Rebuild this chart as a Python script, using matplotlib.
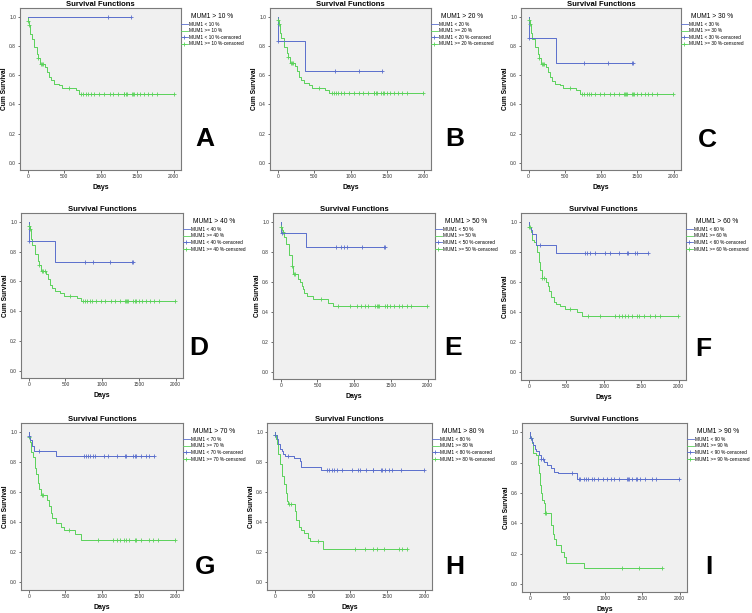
import numpy as np
import matplotlib
matplotlib.use("Agg")
import matplotlib.pyplot as plt
from matplotlib.lines import Line2D

plt.rcParams['font.family'] = ['Liberation Sans', 'DejaVu Sans']

# ---- data: step times, survival after each step, censored times ----
# lo = MUM1 < threshold (blue), hi = MUM1 >= threshold (green)
thresholds = [10, 20, 30, 40, 50, 60, 70, 80, 90]
letters = ['A', 'B', 'C', 'D', 'E', 'F', 'G', 'H', 'I']

A_lo_t = [0, 1420]
A_lo_s = [1.0, 1.0]
A_lo_c = [1105, 1420]
A_hi_t = [0, 5, 18, 36, 55, 91, 127, 145, 173, 241, 264, 295, 318, 364, 432, 477, 659, 705, 2000]
A_hi_s = [1.0, 0.968, 0.945, 0.882, 0.848, 0.791, 0.745, 0.718, 0.677, 0.655, 0.620, 0.586, 0.564, 0.541, 0.530, 0.511, 0.495, 0.473, 0.473]
A_hi_c = [5, 20, 145, 180, 200, 215, 568, 736, 760, 795, 830, 864, 909, 977, 1045, 1123, 1173, 1236,
          1318, 1325, 1340, 1355, 1423, 1440, 1455, 1500, 1545, 1600, 1650, 1705, 1773, 2000]

B_lo_t = [0, 5, 369, 1430]
B_lo_s = [1.0, 0.833, 0.625, 0.625]
B_lo_c = [10, 788, 1116, 1430]
B_hi_t = [0, 5, 15, 30, 50, 90, 125, 145, 170, 240, 262, 292, 318, 364, 430, 475, 655, 705, 1990]
B_hi_s = [1.0, 0.975, 0.95, 0.89, 0.852, 0.795, 0.75, 0.722, 0.68, 0.66, 0.625, 0.59, 0.568, 0.545, 0.534, 0.515, 0.498, 0.477, 0.477]
B_hi_c = [5, 20, 145, 180, 200, 215, 565, 740, 765, 800, 830, 865, 910, 980, 1045, 1120, 1175, 1240,
          1315, 1325, 1340, 1355, 1420, 1440, 1455, 1500, 1545, 1600, 1650, 1705, 1770, 1990]

C_lo_t = [0, 5, 372, 1430]
C_lo_s = [1.0, 0.857, 0.686, 0.686]
C_lo_c = [10, 760, 1100, 1425, 1435]
C_hi_t = [0, 5, 15, 30, 50, 90, 125, 145, 170, 240, 262, 292, 318, 364, 430, 475, 655, 705, 1990]
C_hi_s = [1.0, 0.975, 0.95, 0.89, 0.85, 0.792, 0.747, 0.72, 0.675, 0.655, 0.62, 0.585, 0.563, 0.54, 0.53, 0.511, 0.495, 0.473, 0.473]
C_hi_c = [5, 20, 145, 180, 200, 215, 565, 740, 765, 800, 830, 865, 910, 980, 1045, 1120, 1175, 1240,
          1315, 1325, 1340, 1355, 1420, 1440, 1455, 1500, 1545, 1600, 1650, 1705, 1770, 1990]

D_lo_t = [0, 5, 360, 1413]
D_lo_s = [1.0, 0.875, 0.729, 0.729]
D_lo_c = [10, 769, 871, 1102, 1405, 1413]
D_hi_t = [0, 5, 15, 30, 50, 90, 125, 145, 170, 240, 262, 292, 318, 364, 430, 475, 655, 705, 1990]
D_hi_s = [1.0, 0.975, 0.95, 0.885, 0.845, 0.787, 0.74, 0.712, 0.668, 0.648, 0.613, 0.578, 0.556, 0.533, 0.523, 0.505, 0.489, 0.467, 0.467]
D_hi_c = [5, 20, 145, 180, 200, 215, 565, 740, 765, 800, 830, 865, 910, 980, 1045, 1120, 1175, 1240,
          1315, 1325, 1340, 1355, 1420, 1440, 1455, 1500, 1545, 1600, 1650, 1705, 1770, 1990]

E_lo_t = [0, 5, 350, 1420]
E_lo_s = [1.0, 0.923, 0.831, 0.831]
E_lo_c = [15, 753, 820, 865, 897, 1112, 1404, 1418]
E_hi_t = [0, 5, 15, 25, 40, 70, 110, 148, 170, 240, 260, 283, 300, 318, 363, 440, 650, 708, 1987]
E_hi_s = [1.0, 0.966, 0.945, 0.933, 0.9, 0.855, 0.78, 0.708, 0.652, 0.62, 0.6, 0.573, 0.55, 0.528, 0.506, 0.483, 0.461, 0.438, 0.438]
E_hi_c = [5, 25, 150, 175, 195, 552, 785, 946, 1036, 1090, 1148, 1188, 1282, 1314, 1325, 1335, 1413,
          1440, 1452, 1493, 1547, 1614, 1650, 1717, 1771, 1987]

F_lo_t = [0, 5, 22, 44, 89, 364, 1591]
F_lo_s = [1.0, 0.967, 0.944, 0.922, 0.844, 0.796, 0.796]
F_lo_c = [147, 755, 778, 820, 880, 1022, 1089, 1200, 1311, 1324, 1422, 1444, 1591]
F_hi_t = [0, 5, 22, 44, 67, 89, 111, 133, 155, 169, 235, 250, 267, 298, 333, 360, 422, 489, 644, 711, 1991]
F_hi_s = [1.0, 0.967, 0.933, 0.878, 0.867, 0.844, 0.8, 0.733, 0.678, 0.627, 0.6, 0.572, 0.544, 0.5, 0.467, 0.456, 0.44, 0.422, 0.4, 0.373, 0.373]
F_hi_c = [5, 20, 180, 200, 556, 787, 947, 1147, 1200, 1244, 1289, 1324, 1378, 1444, 1467, 1533, 1622, 1689, 1756, 1991]

G_lo_t = [0, 5, 22, 45, 76, 367, 1709]
G_lo_s = [1.0, 0.971, 0.948, 0.91, 0.876, 0.843, 0.843]
G_lo_c = [5, 143, 747, 778, 805, 837, 872, 904, 1029, 1083, 1204, 1311, 1324, 1418, 1441, 1458, 1530, 1597, 1642, 1709]
G_hi_t = [0, 5, 22, 36, 54, 85, 98, 121, 143, 166, 255, 277, 300, 322, 367, 434, 479, 635, 716, 1987]
G_hi_s = [1.0, 0.97, 0.933, 0.865, 0.831, 0.764, 0.719, 0.663, 0.618, 0.58, 0.551, 0.506, 0.461, 0.427, 0.393, 0.371, 0.348, 0.321, 0.285, 0.285]
G_hi_c = [5, 179, 201, 546, 940, 1150, 1195, 1239, 1298, 1320, 1365, 1441, 1463, 1530, 1642, 1687, 1754, 1987]

H_lo_t = [0, 2, 22, 45, 67, 89, 111, 138, 250, 334, 356, 615, 1996]
H_lo_s = [1.0, 0.978, 0.955, 0.921, 0.888, 0.872, 0.854, 0.843, 0.828, 0.806, 0.768, 0.746, 0.746]
H_lo_c = [5, 169, 695, 726, 757, 793, 837, 895, 1029, 1105, 1140, 1216, 1305, 1318, 1415, 1428, 1474, 1528, 1572, 1684, 1996]
H_hi_t = [0, 2, 13, 27, 36, 67, 102, 120, 147, 160, 169, 267, 281, 316, 347, 392, 437, 468, 646, 1760]
H_hi_s = [1.0, 0.978, 0.955, 0.921, 0.854, 0.787, 0.708, 0.652, 0.596, 0.544, 0.52, 0.472, 0.416, 0.371, 0.348, 0.326, 0.297, 0.275, 0.225, 0.225]
H_hi_c = [5, 185, 215, 570, 1073, 1203, 1305, 1363, 1461, 1661, 1697, 1760]

I_lo_t = [0, 5, 22, 43, 65, 87, 117, 143, 187, 230, 283, 326, 370, 630, 1991]
I_lo_s = [1.0, 0.96, 0.938, 0.916, 0.888, 0.873, 0.851, 0.822, 0.807, 0.785, 0.763, 0.741, 0.73, 0.69, 0.69]
I_lo_c = [10, 143, 174, 565, 652, 674, 726, 752, 783, 826, 861, 913, 978, 1030, 1087, 1130, 1196, 1300,
          1313, 1326, 1370, 1413, 1426, 1470, 1543, 1630, 1683, 1991]
I_hi_t = [0, 2, 22, 43, 78, 109, 122, 139, 152, 165, 183, 196, 283, 304, 326, 348, 413, 456, 478, 717, 1760]
I_hi_s = [1.0, 0.96, 0.927, 0.862, 0.851, 0.785, 0.73, 0.653, 0.598, 0.554, 0.536, 0.47, 0.389, 0.334, 0.301, 0.257, 0.213, 0.18, 0.141, 0.108, 0.108]
I_hi_c = [20, 196, 222, 1226, 1465, 1760]

panels = [
    (A_lo_t, A_lo_s, A_lo_c, A_hi_t, A_hi_s, A_hi_c),
    (B_lo_t, B_lo_s, B_lo_c, B_hi_t, B_hi_s, B_hi_c),
    (C_lo_t, C_lo_s, C_lo_c, C_hi_t, C_hi_s, C_hi_c),
    (D_lo_t, D_lo_s, D_lo_c, D_hi_t, D_hi_s, D_hi_c),
    (E_lo_t, E_lo_s, E_lo_c, E_hi_t, E_hi_s, E_hi_c),
    (F_lo_t, F_lo_s, F_lo_c, F_hi_t, F_hi_s, F_hi_c),
    (G_lo_t, G_lo_s, G_lo_c, G_hi_t, G_hi_s, G_hi_c),
    (H_lo_t, H_lo_s, H_lo_c, H_hi_t, H_hi_s, H_hi_c),
    (I_lo_t, I_lo_s, I_lo_c, I_hi_t, I_hi_s, I_hi_c),
]

# axes boxes in pixels: left, top, right, bottom
boxes = [(20, 8, 181, 170), (270, 8, 431, 170), (521, 8, 681, 170),
         (21, 213, 183, 378), (273, 213, 435, 379), (521, 213, 686, 380),
         (21, 423, 183, 590), (267, 423, 432, 590), (522, 423, 687, 592)]
letter_pos = [(205, 139), (455, 139), (707, 140),
              (199, 348), (453, 348), (703, 349),
              (205, 567), (455, 567), (709, 567)]

W, H = 752, 613
BLUE = '#5a6ecc'
GREEN = '#5ad25a'

fig = plt.figure(figsize=(W / 100, H / 100), dpi=100)


def surv_at(t, s, x):
    i = np.searchsorted(t, x, side='right') - 1
    return np.array(s)[np.clip(i, 0, len(s) - 1)]


for k in range(9):
    lo_t, lo_s, lo_c, hi_t, hi_s, hi_c = panels[k]
    l, t, r, b = boxes[k]
    ax = fig.add_axes([l / W, 1 - b / H, (r - l) / W, (b - t) / H])
    ax.set_facecolor('#f0f0f0')
    for sp in ax.spines.values():
        sp.set_color('#7a7a7a')
        sp.set_linewidth(0.8)

    ax.step(hi_t, hi_s, where='post', color=GREEN, lw=0.7)
    ax.step(lo_t, lo_s, where='post', color=BLUE, lw=0.7)
    ax.plot(hi_c, surv_at(hi_t, hi_s, hi_c), '+', color=GREEN, ms=3.2, mew=0.6)
    ax.plot(lo_c, surv_at(lo_t, lo_s, lo_c), '+', color=BLUE, ms=3.2, mew=0.6)

    ax.set_xlim(-105, 2100)
    ax.set_ylim(-0.05, 1.06)
    ax.set_xticks([0, 500, 1000, 1500, 2000])
    ax.set_yticks([0, 0.2, 0.4, 0.6, 0.8, 1.0])
    ax.set_yticklabels(['0.0', '0.2', '0.4', '0.6', '0.8', '1.0'])
    ax.tick_params(labelsize=3.5, length=1.8, width=0.5, pad=1, colors='#333333')
    ax.set_xlabel('Days', fontsize=5, fontweight='bold', labelpad=4)
    ax.set_ylabel('Cum Survival', fontsize=4.8, fontweight='bold', labelpad=1)
    ax.set_title('Survival Functions', fontsize=5.5, fontweight='bold', pad=0.8)

    th = thresholds[k]
    handles = [Line2D([], [], color=BLUE, lw=0.6),
               Line2D([], [], color=GREEN, lw=0.6),
               Line2D([], [], color=BLUE, lw=0.6, marker='+', ms=3, mew=0.6),
               Line2D([], [], color=GREEN, lw=0.6, marker='+', ms=3, mew=0.6)]
    labels = ['MUM1 < %d %%' % th, 'MUM1 >= %d %%' % th,
              'MUM1 < %d %%-censored' % th, 'MUM1 >= %d %%-censored' % th]
    ax.legend(handles, labels, loc='upper left', bbox_to_anchor=(1.0, 0.97),
              frameon=False, fontsize=3.4, title='MUM1 > %d %%' % th,
              title_fontsize=4.8, handlelength=1.4, handletextpad=0.2,
              labelspacing=0.35, borderaxespad=0, borderpad=0)

    lx, ly = letter_pos[k]
    fig.text(lx / W, 1 - ly / H, letters[k], fontsize=19, fontweight='bold',
             ha='center', va='center')

fig.savefig('out.png', dpi=100)
